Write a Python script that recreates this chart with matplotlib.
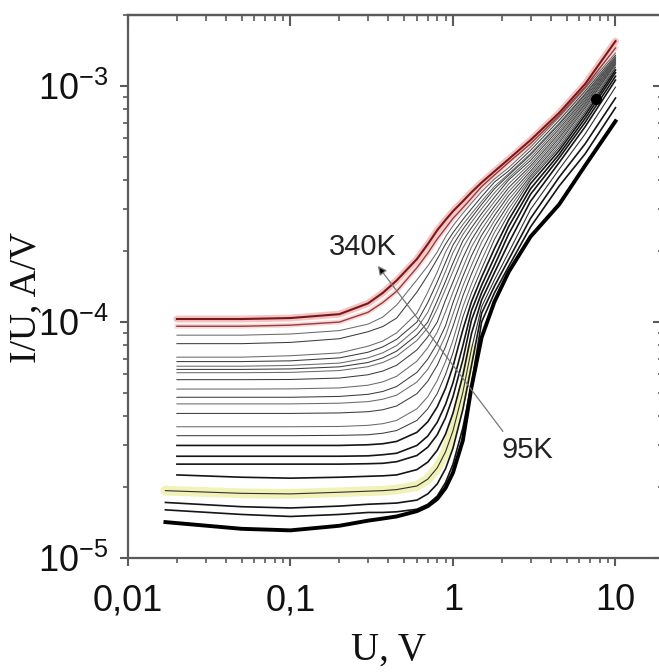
import matplotlib
matplotlib.use("Agg")
import matplotlib.pyplot as plt
from matplotlib.ticker import FixedLocator, FixedFormatter, LogLocator, NullFormatter

plt.rcParams['mathtext.fontset'] = 'custom'
plt.rcParams['mathtext.rm'] = 'Liberation Sans'
plt.rcParams['mathtext.default'] = 'rm'

# bias voltage, V
u = [0.02, 0.05, 0.1, 0.2, 0.3, 0.37, 0.45, 0.6, 0.7, 0.8, 0.9, 1.0, 1.15, 1.3, 1.5, 1.8, 2.2, 3.0, 4.5, 6.5, 10]
u_first_cold = 0.017   # the coldest runs start a bit lower

# I/U in units of 1e-5 A/V, from 340 K (iu_01) down to 95 K (iu_24)
iu_01 = [10.3, 10.3, 10.4, 10.8, 12.0, 13.3, 15.0, 18.5, 21.4, 24.5, 27.1, 29.5, 32.5, 35.5, 39.0, 43.5, 49.0, 59.0, 77.0, 102, 155]
iu_02 = [9.6, 9.6, 9.7, 10.0, 11.0, 12.1, 13.5, 17.0, 19.6, 22.5, 25.0, 27.5, 30.5, 33.5, 37.5, 42.0, 47.5, 57.0, 75.0, 99, 145]
iu_03 = [8.8, 8.8, 8.9, 9.2, 9.8, 10.5, 11.8, 15.1, 17.3, 19.8, 23.0, 25.6, 28.9, 31.9, 35.7, 40.4, 45.1, 55.1, 73.8, 97.7, 138]
iu_04 = [8.1, 8.1, 8.2, 8.5, 9.1, 9.57, 10.4, 13.4, 15.8, 18.5, 21.4, 23.9, 27.2, 30.2, 34.0, 39.2, 43.7, 53.4, 71.6, 95.2, 135]
iu_05 = [7.1, 7.1, 7.2, 7.4, 7.9, 8.31, 9.0, 10.9, 13.4, 16.3, 19.8, 22.6, 25.9, 28.8, 32.5, 37.6, 42.5, 51.8, 69.7, 93.1, 133]
iu_06 = [6.8, 6.8, 6.85, 7.05, 7.45, 7.85, 8.45, 10.0, 12.1, 14.8, 17.9, 21.2, 24.7, 27.7, 31.5, 36.7, 41.9, 51.1, 68.8, 92.1, 132]
iu_07 = [6.5, 6.5, 6.55, 6.7, 7.05, 7.41, 7.95, 9.4, 11.0, 13.5, 16.4, 19.7, 23.5, 26.5, 30.2, 35.3, 40.8, 49.7, 67.3, 90.7, 131]
iu_08 = [6.3, 6.3, 6.33, 6.46, 6.74, 7.05, 7.53, 8.82, 10.0, 12.3, 14.9, 17.8, 22.1, 25.1, 28.8, 33.8, 40.0, 48.4, 65.8, 89.2, 130]
iu_09 = [6.1, 6.1, 6.12, 6.23, 6.47, 6.74, 7.17, 8.36, 9.47, 11.4, 13.8, 16.4, 20.6, 23.8, 27.5, 32.4, 38.5, 47.1, 64.3, 87.8, 129]
iu_10 = [5.7, 5.7, 5.71, 5.79, 5.98, 6.20, 6.56, 7.62, 8.66, 10.0, 12.4, 14.8, 18.7, 22.3, 26.1, 31.0, 37.1, 45.9, 62.9, 86.4, 128]
iu_11 = [5.2, 5.2, 5.21, 5.26, 5.40, 5.58, 5.89, 6.83, 7.79, 9.06, 11.05, 13.4, 17.0, 20.8, 24.7, 29.7, 35.7, 44.8, 61.5, 84.9, 127]
iu_12 = [4.8, 4.8, 4.8, 4.84, 4.94, 5.08, 5.33, 6.12, 6.97, 8.12, 9.65, 12.1, 15.6, 19.1, 23.3, 28.3, 34.4, 43.6, 60.2, 83.6, 126]
iu_13 = [4.5, 4.5, 4.5, 4.53, 4.60, 4.71, 4.90, 5.57, 6.31, 7.36, 8.76, 10.8, 14.2, 17.4, 21.8, 26.9, 33.0, 42.6, 58.8, 82.2, 125]
iu_14 = [4.1, 4.1, 4.1, 4.12, 4.17, 4.25, 4.41, 4.97, 5.62, 6.56, 7.86, 9.59, 12.9, 16.0, 20.0, 25.5, 31.6, 41.6, 57.5, 80.8, 124]
iu_15 = [3.6, 3.6, 3.6, 3.61, 3.65, 3.71, 3.83, 4.29, 4.83, 5.65, 6.80, 8.38, 11.6, 14.5, 18.3, 24.0, 30.2, 40.7, 56.1, 79.1, 122]
iu_16 = [3.3, 3.3, 3.3, 3.31, 3.33, 3.38, 3.47, 3.83, 4.29, 4.98, 6.0, 7.41, 10.5, 13.3, 16.8, 22.4, 28.7, 40.0, 54.8, 77.4, 120]
iu_17 = [3.0, 3.0, 3.0, 3.0, 3.02, 3.05, 3.12, 3.41, 3.78, 4.37, 5.24, 6.49, 9.28, 12.2, 15.5, 20.5, 27.1, 38.6, 53.3, 75.4, 117]
iu_18 = [2.7, 2.7, 2.7, 2.7, 2.71, 2.74, 2.78, 3.0, 3.29, 3.76, 4.48, 5.53, 7.94, 11.2, 14.3, 18.8, 25.4, 36.7, 51.4, 72.9, 114]
iu_19 = [2.5, 2.5, 2.5, 2.5, 2.51, 2.52, 2.56, 2.72, 2.95, 3.33, 3.93, 4.83, 6.92, 10.2, 13.3, 17.4, 23.6, 34.8, 49.6, 70.2, 110]
iu_20 = [2.25, 2.2, 2.18, 2.2, 2.22, 2.23, 2.25, 2.37, 2.55, 2.86, 3.35, 4.11, 5.94, 8.94, 12.4, 16.2, 21.6, 32.5, 47.4, 67.2, 106]
iu_21 = [1.93, 1.88, 1.87, 1.9, 1.92, 1.93, 1.95, 2.02, 2.16, 2.41, 2.82, 3.46, 5.04, 7.70, 11.6, 15.1, 19.7, 30.0, 44.4, 62.6, 99]
iu_22 = [1.72, 1.65, 1.63, 1.66, 1.69, 1.70, 1.71, 1.76, 1.87, 2.06, 2.39, 2.92, 4.26, 6.56, 10.9, 14.2, 18.4, 27.5, 41.1, 56.9, 89]
iu_23 = [1.6, 1.53, 1.5, 1.53, 1.56, 1.56, 1.57, 1.61, 1.69, 1.83, 2.09, 2.50, 3.56, 5.45, 10.0, 13.3, 17.2, 25.3, 37.7, 51.6, 81]
iu_24 = [1.42, 1.33, 1.31, 1.37, 1.44, 1.47, 1.50, 1.58, 1.66, 1.78, 1.98, 2.30, 3.15, 5.3, 8.6, 12.2, 16.3, 23.0, 31.5, 46.0, 71]

series = [iu_01, iu_02, iu_03, iu_04, iu_05, iu_06, iu_07, iu_08, iu_09, iu_10, iu_11, iu_12,
          iu_13, iu_14, iu_15, iu_16, iu_17, iu_18, iu_19, iu_20, iu_21, iu_22, iu_23, iu_24]

# isolated point near the upper end
dot_u = 7.6
dot_iu = 8.8e-4

x_ticks = [0.01, 0.1, 1, 10]
x_labels = ['0,01', '0,1', '1', '10']
y_ticks = [1e-5, 1e-4, 1e-3]
y_labels = [r'$10^{-5}$', r'$10^{-4}$', r'$10^{-3}$']

fig = plt.figure(figsize=(6.59, 6.72), dpi=100)
ax = fig.add_axes([0.1942, 0.1696, 0.814, 0.808])
ax.set_xscale('log')
ax.set_yscale('log')

n = len(series)
for i, vals in enumerate(series):
    xs = list(u)
    if i >= n - 4:
        xs[0] = u_first_cold
    ys = [v * 1e-5 for v in vals]
    if i == 0:
        ax.plot(xs, ys, color='#f2b4b4', lw=5, alpha=0.8, zorder=3, solid_capstyle='round')
        ax.plot(xs, ys, color='#7a1818', lw=1.5, zorder=4)
    elif i == 1:
        ax.plot(xs, ys, color='#f4c8c8', lw=3.5, alpha=0.7, zorder=3)
        ax.plot(xs, ys, color='#9a3a3a', lw=1.0, zorder=4)
    elif i == n - 1:
        ax.plot(xs, ys, color='#000000', lw=2.8, zorder=4)
    elif i == n - 4:
        # pale yellow band along the low-voltage part
        k = xs.index(1.3) + 1
        ax.plot(xs[:k], ys[:k], color='#f0f2b8', lw=7, zorder=2, solid_capstyle='round')
        ax.plot(xs, ys, color='#303030', lw=0.8, zorder=3)
    elif i >= 16:
        ax.plot(xs, ys, color='#151515', lw=1.2, zorder=3)
    else:
        ax.plot(xs, ys, color='#3c3c3c' if i % 2 else '#6a6a6a', lw=0.75, zorder=3)

ax.plot([dot_u], [dot_iu], 'o', color='k', ms=7, zorder=5)

ax.set_xlim(0.01, 20)
ax.set_ylim(1e-5, 2e-3)

# arrow from 95K to 340K
ax.annotate('', xy=(0.345, 1.73e-4), xytext=(2.03, 3.44e-5),
            arrowprops=dict(arrowstyle='-|>', mutation_scale=13, lw=0.9,
                            ec='#777777', fc='k', shrinkA=0, shrinkB=0), zorder=6)
ax.text(0.279, 2.09e-4, '340K', ha='center', va='center',
        fontsize=21, family='Liberation Sans', color='#222222')
ax.text(2.89, 2.86e-5, '95K', ha='center', va='center',
        fontsize=21, family='Liberation Sans', color='#222222')

# ticks: outward on left/bottom, inward on top/right
spine_c = '#5a5a5a'
for s in ax.spines.values():
    s.set_color(spine_c)
    s.set_linewidth(1.6)

ax.xaxis.set_major_locator(FixedLocator(x_ticks))
ax.xaxis.set_major_formatter(FixedFormatter(x_labels))
ax.xaxis.set_minor_locator(LogLocator(base=10, subs=range(2, 10)))
ax.xaxis.set_minor_formatter(NullFormatter())
ax.yaxis.set_major_locator(FixedLocator(y_ticks))
ax.yaxis.set_major_formatter(FixedFormatter(y_labels))
ax.yaxis.set_minor_locator(LogLocator(base=10, subs=range(2, 10)))
ax.yaxis.set_minor_formatter(NullFormatter())

ax.tick_params(which='major', direction='out', length=6, width=1.5, color=spine_c)
ax.tick_params(which='minor', direction='out', length=3.5, width=1.2, color=spine_c)
ax.tick_params(axis='x', which='major', pad=12)
ax.tick_params(axis='y', which='major', pad=8)
for lab in ax.get_xticklabels() + ax.get_yticklabels():
    lab.set_family('Liberation Sans')
    lab.set_fontsize(26)
    lab.set_color('#111111')

top = ax.secondary_xaxis('top')
top.xaxis.set_major_locator(FixedLocator(x_ticks))
top.xaxis.set_minor_locator(LogLocator(base=10, subs=range(2, 10)))
top.xaxis.set_major_formatter(NullFormatter())
top.xaxis.set_minor_formatter(NullFormatter())
top.tick_params(which='major', direction='in', length=8, width=1.5, color=spine_c)
top.tick_params(which='minor', direction='in', length=4, width=1.2, color=spine_c)
top.spines['top'].set_color(spine_c)
top.spines['top'].set_linewidth(1.6)

right = ax.secondary_yaxis('right')
right.yaxis.set_major_locator(FixedLocator(y_ticks))
right.yaxis.set_minor_locator(LogLocator(base=10, subs=range(2, 10)))
right.yaxis.set_major_formatter(NullFormatter())
right.yaxis.set_minor_formatter(NullFormatter())
right.tick_params(which='major', direction='in', length=8, width=1.5, color=spine_c)
right.tick_params(which='minor', direction='in', length=4, width=1.2, color=spine_c)

fig.text(0.589, 0.033, 'U, V', ha='center', va='center',
         fontsize=28, family='Liberation Serif', color='#111111')
fig.text(0.040, 0.558, 'I/U, A/V', ha='center', va='center', rotation=90,
         fontsize=27, family='Liberation Serif', color='#111111')

fig.savefig('out.png', dpi=100)
